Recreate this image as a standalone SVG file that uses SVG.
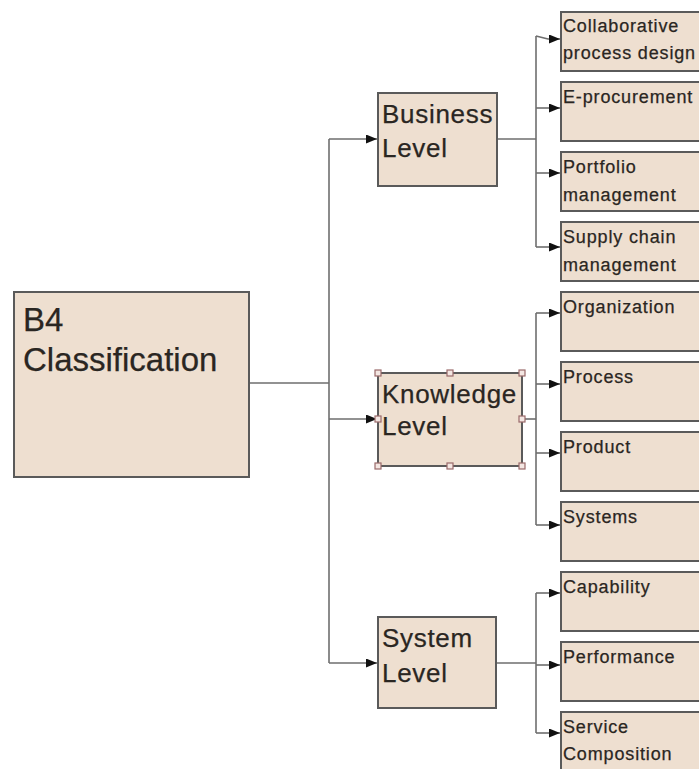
<svg xmlns="http://www.w3.org/2000/svg" width="699" height="769" viewBox="0 0 699 769">
  <style>
    .box { fill: #eedfd0; stroke: #5a5a5a; stroke-width: 2; }
    .wire { fill: none; stroke: #6e6e6e; stroke-width: 1.6; }
    text { font-family: "Liberation Sans", Arial, sans-serif; fill: #2a2622; stroke: #2a2622; stroke-width: 0.25; }
    .big { font-size: 33px; }
    .mid { font-size: 26px; letter-spacing: 0.7px; }
    .small { font-size: 18px; letter-spacing: 0.85px; }
    .handle { fill: #f3e6e2; stroke: #9a6a6a; stroke-width: 1.2; }
  </style>
  <defs>
    <marker id="arrow" markerUnits="userSpaceOnUse" markerWidth="11" markerHeight="9" refX="11" refY="4.5" orient="auto">
      <path d="M0,0 L11,4.5 L0,9 z" fill="#111"/>
    </marker>
  </defs>
  <rect width="699" height="769" fill="#ffffff"/>

  <!-- connectors -->
  <g id="connectors">
    <!-- root to level trunk -->
    <path class="wire" d="M249,383 H329"/>
    <path class="wire" d="M329,139 V663"/>
    <path class="wire" d="M329,139 H377" marker-end="url(#arrow)"/>
    <path class="wire" d="M329,419 H377" marker-end="url(#arrow)"/>
    <path class="wire" d="M329,663 H377" marker-end="url(#arrow)"/>

    <!-- business level children -->
    <path class="wire" d="M497,139 H536"/>
    <path class="wire" d="M536,36 V247"/>
    <path class="wire" d="M536,36 L548,39 H560" marker-end="url(#arrow)"/>
    <path class="wire" d="M536,108 H560" marker-end="url(#arrow)"/>
    <path class="wire" d="M536,173 H560" marker-end="url(#arrow)"/>
    <path class="wire" d="M536,247 H560" marker-end="url(#arrow)"/>

    <!-- knowledge level children -->
    <path class="wire" d="M522,419 H536"/>
    <path class="wire" d="M536,313 V525"/>
    <path class="wire" d="M536,313 H560" marker-end="url(#arrow)"/>
    <path class="wire" d="M536,384 H560" marker-end="url(#arrow)"/>
    <path class="wire" d="M536,453 H560" marker-end="url(#arrow)"/>
    <path class="wire" d="M536,525 H560" marker-end="url(#arrow)"/>

    <!-- system level children -->
    <path class="wire" d="M496,663 H536"/>
    <path class="wire" d="M536,593 V733"/>
    <path class="wire" d="M536,593 H560" marker-end="url(#arrow)"/>
    <path class="wire" d="M536,665 H560" marker-end="url(#arrow)"/>
    <path class="wire" d="M536,733 H560" marker-end="url(#arrow)"/>
  </g>

  <!-- root -->
  <g id="b4-classification">
    <rect class="box" x="14" y="292" width="235" height="185"/>
    <text class="big" x="23" y="331">B4</text>
    <text class="big" x="23" y="371">Classification</text>
  </g>

  <!-- levels -->
  <g id="business-level">
    <rect class="box" x="378" y="93" width="119" height="93"/>
    <text class="mid" x="382" y="123">Business</text>
    <text class="mid" x="382" y="157">Level</text>
  </g>
  <g id="knowledge-level">
    <rect class="box" x="378" y="373" width="144" height="93"/>
    <text class="mid" x="382" y="403">Knowledge</text>
    <text class="mid" x="382" y="435">Level</text>
    <g id="selection-handles">
      <rect class="handle" x="375" y="370" width="6" height="6"/>
      <rect class="handle" x="447" y="370" width="6" height="6"/>
      <rect class="handle" x="519" y="370" width="6" height="6"/>
      <rect class="handle" x="375" y="416" width="6" height="6"/>
      <rect class="handle" x="519" y="416" width="6" height="6"/>
      <rect class="handle" x="375" y="463" width="6" height="6"/>
      <rect class="handle" x="447" y="463" width="6" height="6"/>
      <rect class="handle" x="519" y="463" width="6" height="6"/>
    </g>
  </g>
  <g id="system-level">
    <rect class="box" x="378" y="617" width="118" height="91"/>
    <text class="mid" x="382" y="647">System</text>
    <text class="mid" x="382" y="682">Level</text>
  </g>

  <!-- leaf items -->
  <g id="collaborative-process-design">
    <rect class="box" x="561" y="12" width="150" height="59"/>
    <text class="small" x="563" y="32">Collaborative</text>
    <text class="small" x="563" y="59">process design</text>
  </g>
  <g id="e-procurement">
    <rect class="box" x="561" y="82" width="150" height="59"/>
    <text class="small" x="563" y="103">E-procurement</text>
  </g>
  <g id="portfolio-management">
    <rect class="box" x="561" y="152" width="150" height="59"/>
    <text class="small" x="563" y="173">Portfolio</text>
    <text class="small" x="563" y="201">management</text>
  </g>
  <g id="supply-chain-management">
    <rect class="box" x="561" y="222" width="150" height="59"/>
    <text class="small" x="563" y="243">Supply chain</text>
    <text class="small" x="563" y="271">management</text>
  </g>
  <g id="organization">
    <rect class="box" x="561" y="292" width="150" height="59"/>
    <text class="small" x="563" y="313">Organization</text>
  </g>
  <g id="process">
    <rect class="box" x="561" y="362" width="150" height="59"/>
    <text class="small" x="563" y="383">Process</text>
  </g>
  <g id="product">
    <rect class="box" x="561" y="432" width="150" height="59"/>
    <text class="small" x="563" y="453">Product</text>
  </g>
  <g id="systems">
    <rect class="box" x="561" y="502" width="150" height="59"/>
    <text class="small" x="563" y="523">Systems</text>
  </g>
  <g id="capability">
    <rect class="box" x="561" y="572" width="150" height="59"/>
    <text class="small" x="563" y="593">Capability</text>
  </g>
  <g id="performance">
    <rect class="box" x="561" y="642" width="150" height="59"/>
    <text class="small" x="563" y="663">Performance</text>
  </g>
  <g id="service-composition">
    <rect class="box" x="561" y="712" width="150" height="59"/>
    <text class="small" x="563" y="733">Service</text>
    <text class="small" x="563" y="760">Composition</text>
  </g>
</svg>
